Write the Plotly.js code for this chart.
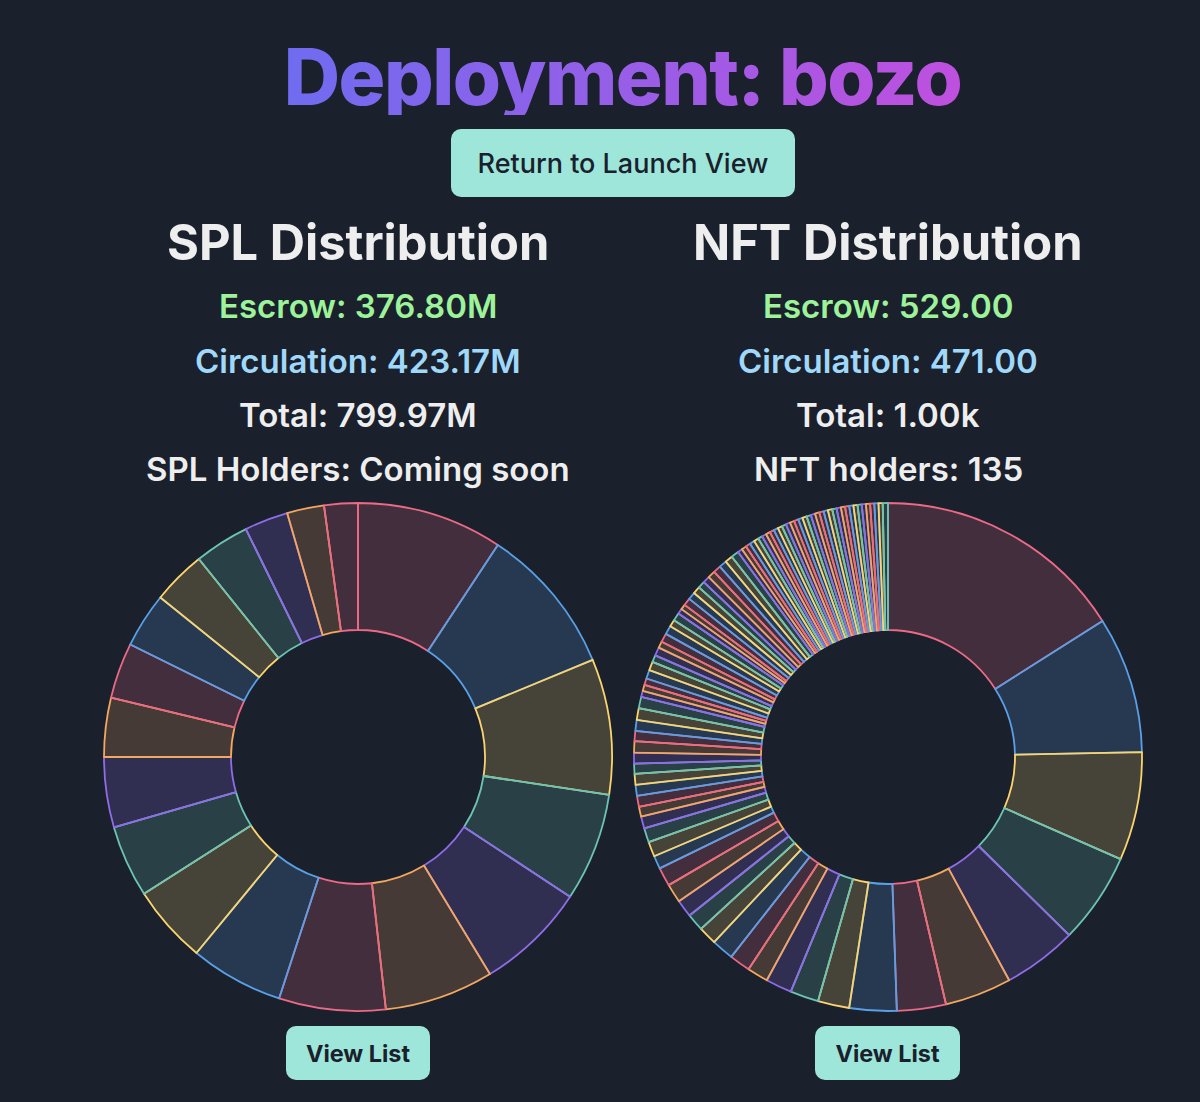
<!DOCTYPE html>
<html>
<head>
<meta charset="utf-8">
<script src="https://cdn.plot.ly/plotly-3.0.1.min.js"></script>
<style>
html,body{margin:0;padding:0;width:1200px;height:1102px;background:#1a202c;overflow:hidden;font-family:Inter,sans-serif}
#chart{position:absolute;left:0;top:0;width:1200px;height:1102px}
.btn{position:absolute;background:#9de6d9;color:#1a202c;border-radius:10px;display:flex;align-items:center;justify-content:center;font-family:Inter,sans-serif}
#titleClip{position:absolute;left:270px;top:115px;width:700px;height:14px;background:#1a202c}
</style>
</head>
<body>
<div id="chart"></div>
<div id="titleClip"></div>
<div class="btn" style="left:451px;top:129px;width:344px;height:68px;font-size:27px;font-weight:500">Return to Launch View</div>
<div class="btn" style="left:286px;top:1026px;width:144px;height:54px;font-size:23.4px;font-weight:700">View List</div>
<div class="btn" style="left:815px;top:1026px;width:145px;height:54px;font-size:23.4px;font-weight:700">View List</div>
<script>
const chartTitle = "Deployment: bozo";
const palette = ["#ec6a85","#5aa0e6","#fbd46e","#6cc4b5","#8f6ce8","#f3a75f"];
const paletteFill = ["rgba(236,106,133,0.2)","rgba(90,160,230,0.2)","rgba(251,212,110,0.2)","rgba(108,196,181,0.2)","rgba(143,108,232,0.2)","rgba(243,167,95,0.2)"];

const splValues = [33.4,34.1,31.1,24.8,25.3,25,24.4,21.4,17.9,16.5,16.1,13.5,12.8,12.6,12.3,12.6,10,8.5,7.7];
const nftValues = [57.6,31.3,24.8,20.8,17,15.3,11.2,10.8,7.2,6.5,6,4.8,4.8,5.1,4.2,4,4,4.3,4.3,3,3.4,3.3,2.7,2.3,2.5,2.5,2.5,2.3,
  2.5,2.6,2.3,2.5,2.7,2.6,
  1.4,1.4,1.5,2,2,1.6,1.9,1.5,2,2,1.6,1.8,1.2,1.2,
  1.7,1.7,1.7,1.6,1.6,1.7,
  1.75,1.75,1.75,1.75,
  1.1,1.1,1.1,1.1,1.1,
  1,1,1,1,1,1,1,1,1,1,1,1,1,1,1,1,1,1,1,1,
  0.95,0.95,0.95,0.95,0.95,0.95,0.95,0.95,0.95,0.95,
  1.2];

const panelTitles = ["SPL Distribution","NFT Distribution"];
const escrowLines = ["Escrow: 376.80M","Escrow: 529.00"];
const circulationLines = ["Circulation: 423.17M","Circulation: 471.00"];
const totalLines = ["Total: 799.97M","Total: 1.00k"];
const holderLines = ["SPL Holders: Coming soon","NFT holders: 135"];

function pie(values, name, x0, x1) {
  return {
    type: "pie", name: name, values: values, labels: values.map((_, i) => name + " " + (i + 1)),
    sort: false, direction: "clockwise", rotation: 0, hole: 0.5,
    textinfo: "none", hoverinfo: "skip", showlegend: false,
    domain: {x: [x0 / 1200, x1 / 1200], y: [91 / 1102, 599 / 1102]},
    marker: {
      colors: values.map((_, i) => paletteFill[i % 6]),
      line: {color: values.map((_, i) => palette[i % 6]), width: 1.8}
    }
  };
}

const centres = [358 / 1200, 888 / 1200];
function label(text, cx, cy, size, color, weight) {
  return {text: text, xref: "paper", yref: "paper", x: cx, y: 1 - cy / 1102, xanchor: "center", yanchor: "middle",
    showarrow: false, font: {family: "Inter, sans-serif", size: size, color: color, weight: weight}};
}
const annotations = [];
centres.forEach((c, i) => {
  annotations.push(label(panelTitles[i], c, 242, 48.8, "#eeeeee", 700));
  annotations.push(label(escrowLines[i], c, 306, 33, "#9df29a", 600));
  annotations.push(label(circulationLines[i], c, 360.5, 33, "#a0d8fa", 600));
  annotations.push(label(totalLines[i], c, 415, 33, "#eeeeee", 600));
  annotations.push(label(holderLines[i], c, 469.5, 33, "#eeeeee", 600));
});

const layout = {
  width: 1200, height: 1102, margin: {l: 0, r: 0, t: 0, b: 0},
  paper_bgcolor: "#1a202c", plot_bgcolor: "#1a202c",
  title: {text: chartTitle, x: 622.5 / 1200, xanchor: "center", y: 1 - 78 / 1102, yanchor: "middle",
    font: {family: "Inter, sans-serif", size: 78, color: "#9f5ce8", weight: 800}},
  annotations: annotations
};

Plotly.newPlot("chart", [pie(splValues, "SPL", 104, 612), pie(nftValues, "NFT", 634, 1142)], layout, {displayModeBar: false, staticPlot: true}).then(() => {
  const ns = "http://www.w3.org/2000/svg";
  const defs = document.createElementNS(ns, "defs");
  const g = document.createElementNS(ns, "linearGradient");
  g.setAttribute("id", "titleGradient");
  g.setAttribute("gradientUnits", "userSpaceOnUse");
  g.setAttribute("x1", "285"); g.setAttribute("y1", "45");
  g.setAttribute("x2", "960"); g.setAttribute("y2", "110");
  [["0", "#6f6cf0"], ["1", "#bf50de"]].forEach(s => {
    const st = document.createElementNS(ns, "stop");
    st.setAttribute("offset", s[0]); st.setAttribute("stop-color", s[1]);
    g.appendChild(st);
  });
  defs.appendChild(g);
  document.querySelectorAll("#chart svg").forEach(s => {
    const t = s.querySelector(".gtitle");
    if (t) {
      s.insertBefore(defs, s.firstChild);
      t.style.fill = "url(#titleGradient)";
      t.style.letterSpacing = "-1.5px";
    }
  });
});
</script>
</body>
</html>
